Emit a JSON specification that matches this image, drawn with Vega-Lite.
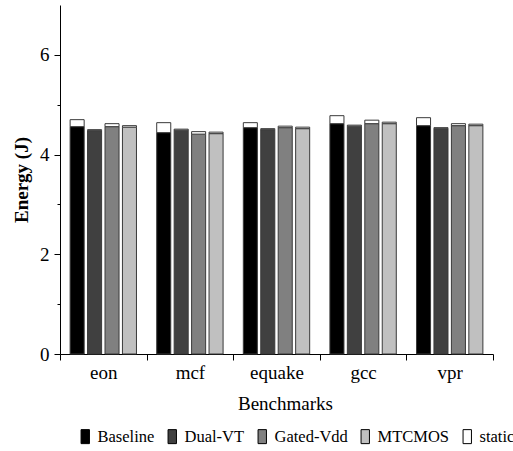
{
  "$schema": "https://vega.github.io/schema/vega-lite/v6.json",
  "width": 433,
  "height": 349,
  "autosize": "none",
  "padding": {"left": 60, "top": 5, "right": 20, "bottom": 97},
  "config": {
    "font": "Liberation Serif",
    "view": {"stroke": null},
    "axis": {"labelFont": "Liberation Serif", "titleFont": "Liberation Serif", "domainColor": "#000", "tickColor": "#000", "labelColor": "#000", "titleColor": "#000", "grid": false},
    "legend": {"labelFont": "Liberation Serif", "titleFont": "Liberation Serif"}
  },
  "data": {"values": [
    {"bench": "eon", "tech": "Baseline", "part": "dynamic", "comp": "Baseline", "value": 4.56},
    {"bench": "eon", "tech": "Baseline", "part": "static", "comp": "static", "value": 0.14},
    {"bench": "eon", "tech": "Dual-VT", "part": "dynamic", "comp": "Dual-VT", "value": 4.48},
    {"bench": "eon", "tech": "Dual-VT", "part": "static", "comp": "static", "value": 0.02},
    {"bench": "eon", "tech": "Gated-Vdd", "part": "dynamic", "comp": "Gated-Vdd", "value": 4.56},
    {"bench": "eon", "tech": "Gated-Vdd", "part": "static", "comp": "static", "value": 0.06},
    {"bench": "eon", "tech": "MTCMOS", "part": "dynamic", "comp": "MTCMOS", "value": 4.55},
    {"bench": "eon", "tech": "MTCMOS", "part": "static", "comp": "static", "value": 0.03},
    {"bench": "mcf", "tech": "Baseline", "part": "dynamic", "comp": "Baseline", "value": 4.44},
    {"bench": "mcf", "tech": "Baseline", "part": "static", "comp": "static", "value": 0.2},
    {"bench": "mcf", "tech": "Dual-VT", "part": "dynamic", "comp": "Dual-VT", "value": 4.49},
    {"bench": "mcf", "tech": "Dual-VT", "part": "static", "comp": "static", "value": 0.02},
    {"bench": "mcf", "tech": "Gated-Vdd", "part": "dynamic", "comp": "Gated-Vdd", "value": 4.41},
    {"bench": "mcf", "tech": "Gated-Vdd", "part": "static", "comp": "static", "value": 0.05},
    {"bench": "mcf", "tech": "MTCMOS", "part": "dynamic", "comp": "MTCMOS", "value": 4.42},
    {"bench": "mcf", "tech": "MTCMOS", "part": "static", "comp": "static", "value": 0.03},
    {"bench": "equake", "tech": "Baseline", "part": "dynamic", "comp": "Baseline", "value": 4.54},
    {"bench": "equake", "tech": "Baseline", "part": "static", "comp": "static", "value": 0.1},
    {"bench": "equake", "tech": "Dual-VT", "part": "dynamic", "comp": "Dual-VT", "value": 4.5},
    {"bench": "equake", "tech": "Dual-VT", "part": "static", "comp": "static", "value": 0.02},
    {"bench": "equake", "tech": "Gated-Vdd", "part": "dynamic", "comp": "Gated-Vdd", "value": 4.54},
    {"bench": "equake", "tech": "Gated-Vdd", "part": "static", "comp": "static", "value": 0.03},
    {"bench": "equake", "tech": "MTCMOS", "part": "dynamic", "comp": "MTCMOS", "value": 4.52},
    {"bench": "equake", "tech": "MTCMOS", "part": "static", "comp": "static", "value": 0.03},
    {"bench": "gcc", "tech": "Baseline", "part": "dynamic", "comp": "Baseline", "value": 4.62},
    {"bench": "gcc", "tech": "Baseline", "part": "static", "comp": "static", "value": 0.16},
    {"bench": "gcc", "tech": "Dual-VT", "part": "dynamic", "comp": "Dual-VT", "value": 4.57},
    {"bench": "gcc", "tech": "Dual-VT", "part": "static", "comp": "static", "value": 0.02},
    {"bench": "gcc", "tech": "Gated-Vdd", "part": "dynamic", "comp": "Gated-Vdd", "value": 4.62},
    {"bench": "gcc", "tech": "Gated-Vdd", "part": "static", "comp": "static", "value": 0.07},
    {"bench": "gcc", "tech": "MTCMOS", "part": "dynamic", "comp": "MTCMOS", "value": 4.62},
    {"bench": "gcc", "tech": "MTCMOS", "part": "static", "comp": "static", "value": 0.03},
    {"bench": "vpr", "tech": "Baseline", "part": "dynamic", "comp": "Baseline", "value": 4.58},
    {"bench": "vpr", "tech": "Baseline", "part": "static", "comp": "static", "value": 0.16},
    {"bench": "vpr", "tech": "Dual-VT", "part": "dynamic", "comp": "Dual-VT", "value": 4.52},
    {"bench": "vpr", "tech": "Dual-VT", "part": "static", "comp": "static", "value": 0.02},
    {"bench": "vpr", "tech": "Gated-Vdd", "part": "dynamic", "comp": "Gated-Vdd", "value": 4.58},
    {"bench": "vpr", "tech": "Gated-Vdd", "part": "static", "comp": "static", "value": 0.04},
    {"bench": "vpr", "tech": "MTCMOS", "part": "dynamic", "comp": "MTCMOS", "value": 4.58},
    {"bench": "vpr", "tech": "MTCMOS", "part": "static", "comp": "static", "value": 0.03}
  ]},
  "mark": {"type": "bar", "stroke": "#3a3a3a", "strokeWidth": 1},
  "encoding": {
    "x": {
      "field": "bench", "type": "nominal",
      "sort": ["eon", "mcf", "equake", "gcc", "vpr"],
      "scale": {"paddingInner": 0, "paddingOuter": 0},
      "axis": {
        "title": "Benchmarks", "labelAngle": 0, "tickBand": "extent", "tickSize": 6,
        "labelFont": "Liberation Serif", "titleFont": "Liberation Serif",
        "labelFontSize": 19, "labelPadding": 3, "titleFontSize": 19, "titleFontWeight": "normal", "titlePadding": 12,
        "titleX": 225
      }
    },
    "xOffset": {
      "field": "tech", "type": "nominal",
      "sort": ["Baseline", "Dual-VT", "Gated-Vdd", "MTCMOS"],
      "scale": {"paddingInner": 0.195, "paddingOuter": 0.58}
    },
    "y": {
      "field": "value", "type": "quantitative", "stack": "zero",
      "scale": {"domain": [0, 7], "nice": false},
      "axis": {
        "title": "Energy (J)", "values": [0, 1, 2, 3, 4, 5, 6, 7],
        "labelExpr": "datum.value % 2 === 0 && datum.value < 7 ? datum.label : ''",
        "tickSize": {"condition": {"test": "datum.value % 2 === 0", "value": 6}, "value": 3},
        "tickOpacity": {"condition": {"test": "datum.value === 7", "value": 0}, "value": 1},
        "labelFont": "Liberation Serif", "titleFont": "Liberation Serif",
        "labelFontSize": 19, "labelPadding": 5, "titleFontSize": 19, "titleFontWeight": "bold", "titlePadding": 8
      }
    },
    "color": {
      "field": "comp", "type": "nominal",
      "scale": {
        "domain": ["Baseline", "Dual-VT", "Gated-Vdd", "MTCMOS", "static"],
        "range": ["#000000", "#404040", "#808080", "#c0c0c0", "#ffffff"]
      },
      "legend": {
        "title": null, "orient": "none", "direction": "horizontal",
        "legendX": 17, "legendY": 423,
        "symbolType": "M-0.6,-1H0.6V1H-0.6Z", "symbolSize": 196,
        "symbolStrokeColor": "#000", "symbolStrokeWidth": 1, "symbolOpacity": 1,
        "labelFont": "Liberation Serif",
        "labelFontSize": 16.5, "labelColor": "#000", "labelOffset": 4, "columnPadding": 9
      }
    },
    "order": {"field": "part", "sort": "ascending"}
  }
}
